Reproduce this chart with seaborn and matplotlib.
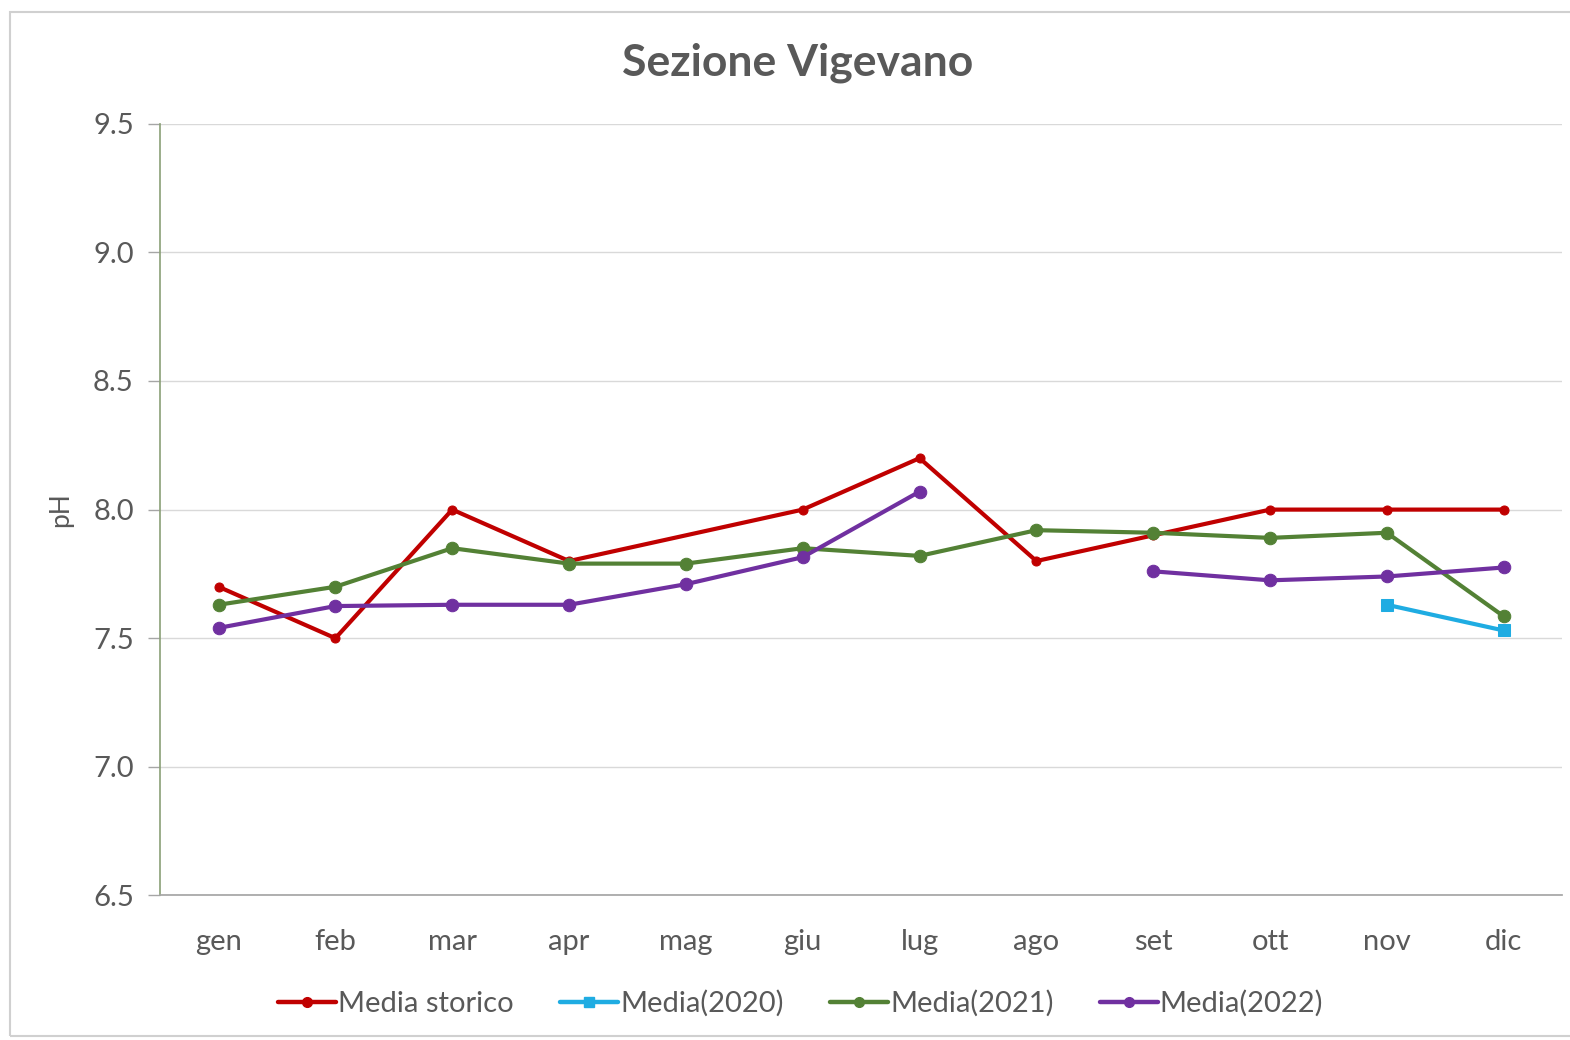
import numpy as np
import pandas as pd
import matplotlib
matplotlib.use('Agg')
import matplotlib.pyplot as plt
import seaborn as sns
from matplotlib.patches import Rectangle

# pH monthly values, Sezione Vigevano (NaN = no data)
months = ['gen', 'feb', 'mar', 'apr', 'mag', 'giu', 'lug', 'ago', 'set', 'ott', 'nov', 'dic']
media_storico = [7.70, 7.50, 8.00, 7.80, np.nan, 8.00, 8.20, 7.80, 7.90, 8.00, 8.00, 8.00]
media_2020 = [np.nan] * 10 + [7.63, 7.53]
media_2021 = [7.63, 7.70, 7.85, 7.79, 7.79, 7.85, 7.82, 7.92, 7.91, 7.89, 7.91, 7.585]
media_2022 = [7.54, 7.625, 7.63, 7.63, 7.71, 7.815, 8.07, np.nan, 7.76, 7.725, 7.74, 7.775]

series = {'Media storico': media_storico, 'Media(2020)': media_2020,
          'Media(2021)': media_2021, 'Media(2022)': media_2022}
colors = {'Media storico': '#C00000', 'Media(2020)': '#1FACE2',
          'Media(2021)': '#538135', 'Media(2022)': '#7030A0'}
markers = {'Media storico': 'o', 'Media(2020)': 's', 'Media(2021)': 'o', 'Media(2022)': 'o'}
msize = {'Media storico': 6.5, 'Media(2020)': 8.5, 'Media(2021)': 9, 'Media(2022)': 9}

# long table; the storico line bridges its gap, 2022 breaks at the missing month
rows = []
for name, vals in series.items():
    seg = 0
    for i, v in enumerate(vals):
        if np.isnan(v):
            if name == 'Media(2022)':
                seg += 1
            continue
        rows.append({'mese': i, 'pH': v, 'serie': name, 'seg': seg})
df = pd.DataFrame(rows)

sns.set_theme(style='white')
plt.rcParams['font.family'] = ['Lato', 'DejaVu Sans']
grey = '#595959'

fig = plt.figure(figsize=(15.7, 10.4), dpi=100)
ax = fig.add_axes([0.102, 0.139, 0.893, 0.742])

for name in series:
    sub = df[df['serie'] == name]
    sns.lineplot(data=sub, x='mese', y='pH', units='seg', estimator=None,
                 color=colors[name], marker=markers[name], markersize=msize[name],
                 markeredgecolor=colors[name], linewidth=3.0, ax=ax, label=name,
                 legend=False)

ax.set_xlim(-0.5, 11.5)
ax.set_ylim(6.5, 9.5)
ax.set_yticks(np.arange(6.5, 9.51, 0.5))
ax.set_yticklabels([f'{v:.1f}' for v in np.arange(6.5, 9.51, 0.5)])
ax.set_xticks(range(12))
ax.set_xticklabels(months)
ax.set_xticks(np.arange(-0.5, 12, 1), minor=True)
ax.tick_params(axis='x', which='major', length=0, pad=24, labelsize=21, labelcolor=grey)
ax.tick_params(axis='x', which='minor', length=12, width=1, color='#A6A6A6', direction='out')
ax.tick_params(axis='y', length=9, width=1, color='#A6A6A6', direction='out', pad=10,
               labelsize=21, labelcolor=grey, left=True)
ax.grid(axis='y', color='#D9D9D9', linewidth=1)
ax.grid(axis='x', visible=False)
for s in ['top', 'right']:
    ax.spines[s].set_visible(False)
ax.spines['left'].set_color('#8FA37C')
ax.spines['bottom'].set_color('#A6A6A6')
ax.set_xlabel('')
ax.set_ylabel('pH', fontsize=19, color=grey, labelpad=14)

fig.suptitle('Sezione Vigevano', x=0.508, y=0.959, fontsize=32, fontweight='bold', color=grey)

handles = [plt.Line2D([], [], color=colors[n], marker=markers[n], markersize=7, linewidth=3.2)
           for n in series]
fig.legend(handles, list(series.keys()), loc='center', bbox_to_anchor=(0.51, 0.035),
           ncol=4, frameon=False, fontsize=21, labelcolor=grey, handlelength=2.0,
           handletextpad=0.05, columnspacing=1.6)

fig.patches.append(Rectangle((10 / 1570, 0.004), 1.0, 1 - 0.004 - 12 / 1040,
                             transform=fig.transFigure, fill=False,
                             edgecolor='#D0D0D0', linewidth=1.5))

fig.savefig('out.png', dpi=100, facecolor='white')
